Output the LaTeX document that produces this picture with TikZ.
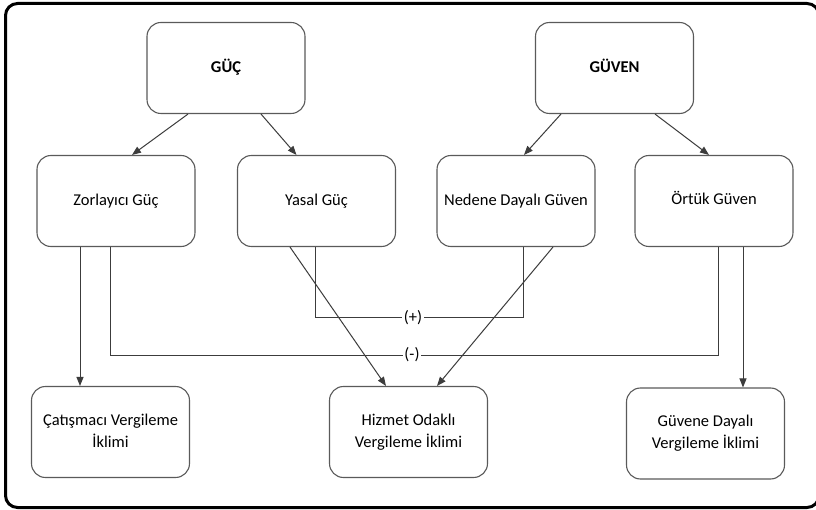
\documentclass[tikz,border=0pt]{standalone}
\usepackage{fontspec}
\setmainfont{Carlito}
\usetikzlibrary{arrows.meta}
\definecolor{boxline}{HTML}{5A5A5A}
\definecolor{conn}{HTML}{3C3C3C}
% box text, moved up (positive) or down (negative)
\newcommand{\boxtext}[2]{\raisebox{#1}{\begin{tabular}{@{}c@{}}#2\end{tabular}}}
\begin{document}
\begin{tikzpicture}[x=1pt,y=-1pt,
  box/.style={draw=boxline,line width=1.1pt,rounded corners=14pt,
    minimum width=158pt,minimum height=91pt,align=center,
    font=\fontsize{16.5}{22}\selectfont,text=black,inner sep=0pt},
  topbox/.style={box,font=\fontsize{16.5}{22}\selectfont\bfseries},
  arr/.style={draw=conn,line width=1pt,-{Triangle[length=9pt,width=7pt]}},
  link/.style={draw=conn,line width=1pt},
  lbl/.style={fill=white,inner sep=1.5pt,font=\fontsize{16.5}{22}\selectfont}]
\useasboundingbox (0,0) rectangle (816,510);
\fill[white] (0,0) rectangle (816,510);
% outer frame
\draw[line width=3pt,rounded corners=12pt] (5.5,3.5) rectangle (819,507.5);

% top level
\node[topbox] (guc)   at (226,68)   {\boxtext{1.5pt}{GÜÇ}};
\node[topbox] (guven) at (614.5,68) {\boxtext{1.5pt}{GÜVEN}};

% middle level
\node[box] (zor)   at (116,201)   {\boxtext{4pt}{Zorlayıcı Güç}};
\node[box] (yasal) at (316.5,201) {\boxtext{6.5pt}{Yasal Güç}};
\node[box] (neden) at (516,201)   {\boxtext{6.5pt}{Nedene Dayalı Güven}};
\node[box] (ortuk) at (714,201)   {\boxtext{7.5pt}{Örtük Güven}};

% bottom level
\node[box] (cat)    at (110.5,432)  {\boxtext{-3.5pt}{Çatışmacı Vergileme\\İklimi}};
\node[box] (hiz)    at (408.5,432)  {\boxtext{-5.5pt}{Hizmet Odaklı\\Vergileme İklimi}};
\node[box] (guvene) at (705.5,433.5){\boxtext{-8.5pt}{Güvene Dayalı\\Vergileme İklimi}};

% top to middle
\draw[arr] ([xshift=-38pt]guc.south)     -- ([xshift=16pt]zor.north);
\draw[arr] ([xshift=35pt]guc.south)      -- ([xshift=-20pt]yasal.north);
\draw[arr] ([xshift=-53.5pt]guven.south) -- ([xshift=8pt]neden.north);
\draw[arr] ([xshift=40.5pt]guven.south)  -- ([xshift=-5pt]ortuk.north);

% middle to bottom
\draw[arr] ([xshift=-36pt]zor.south)     -- ([xshift=-30.5pt]cat.north);
\draw[arr] ([xshift=29pt]ortuk.south)    -- ([xshift=37.5pt]guvene.north);
\draw[arr] ([xshift=-26.5pt]yasal.south) -- ([xshift=-22.5pt]hiz.north);
\draw[arr] ([xshift=37pt]neden.south)    -- ([xshift=28.5pt]hiz.north);

% (+) and (-) links
\coordinate (pa) at ([xshift=-1.5pt]yasal.south);
\coordinate (pb) at ([xshift=7.5pt]neden.south);
\coordinate (ma) at ([xshift=-6pt]zor.south);
\coordinate (mb) at ([xshift=4pt]ortuk.south);
\coordinate (plusrow)  at (0,318);
\coordinate (minusrow) at (0,355);
\draw[link] (pa) -- (pa |- plusrow) -- (pb |- plusrow) -- (pb);
\draw[link] (ma) -- (ma |- minusrow) -- (mb |- minusrow) -- (mb);
\node[lbl] (plus)  at (413,318) {(+)};
\node[lbl] (minus) at (412,355) {(-)};
\end{tikzpicture}
\end{document}
